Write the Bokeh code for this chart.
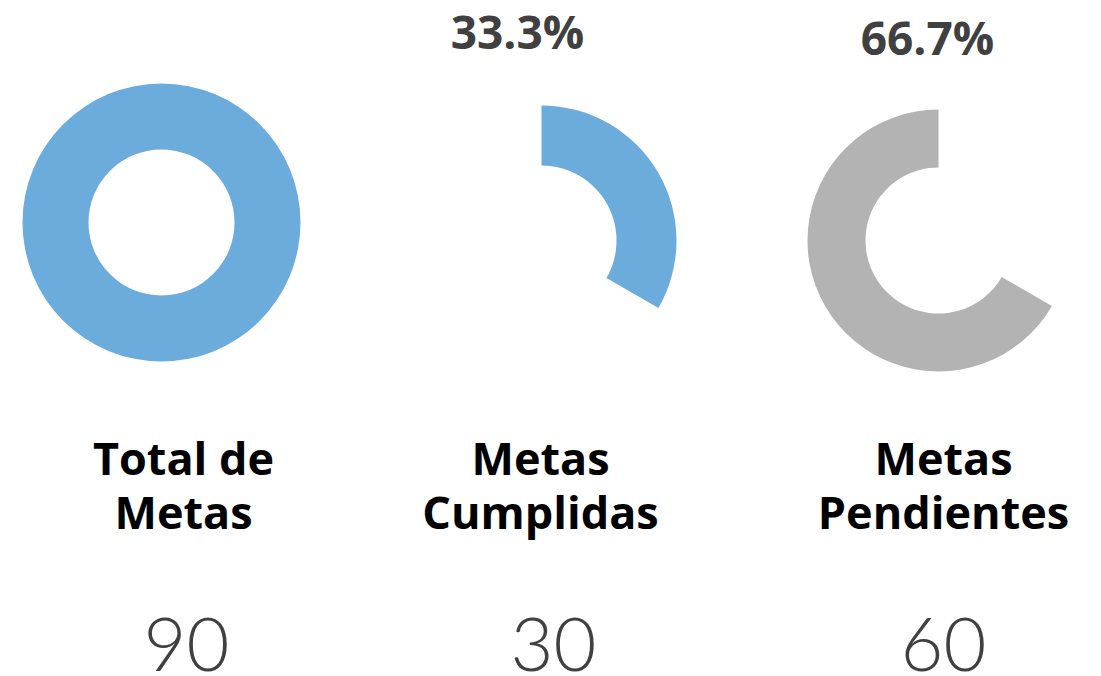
from bokeh.plotting import figure
from bokeh.models import Range1d
from bokeh.core.properties import value
from bokeh.embed import file_html
from bokeh.resources import INLINE
import math

# ---- data ----
categories = [["Total de", "Metas"], ["Metas", "Cumplidas"], ["Metas", "Pendientes"]]
values = [90, 30, 60]
total = values[0]
percent_labels = [f"{v / total * 100:.1f}%" for v in values[1:]]

BLUE = "#6cacdc"
GREY = "#b3b3b3"
TXT = "#404040"

W, H = 1101, 676
p = figure(width=W, height=H, output_backend="svg", toolbar_location=None,
           x_range=Range1d(0, W), y_range=Range1d(0, H), min_border=0,
           outline_line_color=None, background_fill_color="white")
p.axis.visible = False
p.grid.visible = False

def X(px):
    return px

def Y(py):
    return H - py

# layout
centers = [(161, 222), (541, 240), (938, 240)]
outer = [139, 135, 131]
inner = [73, 75, 73]

# donut 1: total (full ring)
cx, cy = centers[0]
p.annulus(x=[X(cx)], y=[Y(cy)], inner_radius=inner[0], outer_radius=outer[0],
          fill_color=BLUE, line_color=None)

# donut 2: completed, clockwise from top
frac2 = values[1] / total
cx, cy = centers[1]
p.annular_wedge(x=[X(cx)], y=[Y(cy)], inner_radius=inner[1], outer_radius=outer[1],
                start_angle=math.radians(90 - 360 * frac2), end_angle=math.radians(90),
                direction="anticlock", fill_color=BLUE, line_color=None)

# donut 3: pending, counter-clockwise from top
frac3 = values[2] / total
cx, cy = centers[2]
p.annular_wedge(x=[X(cx)], y=[Y(cy)], inner_radius=inner[2], outer_radius=outer[2],
                start_angle=math.radians(90), end_angle=math.radians(90 + 360 * frac3),
                direction="anticlock", fill_color=GREY, line_color=None)

# percentages
pct_pos = [(517, 30), (927, 36)]
p.text(x=[X(a) for a, b in pct_pos], y=[Y(b) for a, b in pct_pos], text=percent_labels,
       text_font=value("Open Sans"), text_font_style="bold", text_font_size="46px",
       text_color=TXT, text_align="center", text_baseline="alphabetic")

# category labels
label_x = [183, 540, 943]
for i, lines in enumerate(categories):
    for j, line in enumerate(lines):
        p.text(x=[X(label_x[i])], y=[Y(457 + 54 * j)], text=[line],
               text_font=value("Open Sans"), text_font_style="bold", text_font_size="45px",
               text_color="black", text_align="center", text_baseline="alphabetic")

# numbers
num_x = [186, 553, 943]
p.text(x=[X(a) for a in num_x], y=[Y(644)] * 3, text=[str(v) for v in values],
       text_font=value("Lato Light"), text_font_size="74px",
       text_color=TXT, text_align="center", text_baseline="alphabetic")

open("out.html", "w").write(file_html(p, INLINE))
